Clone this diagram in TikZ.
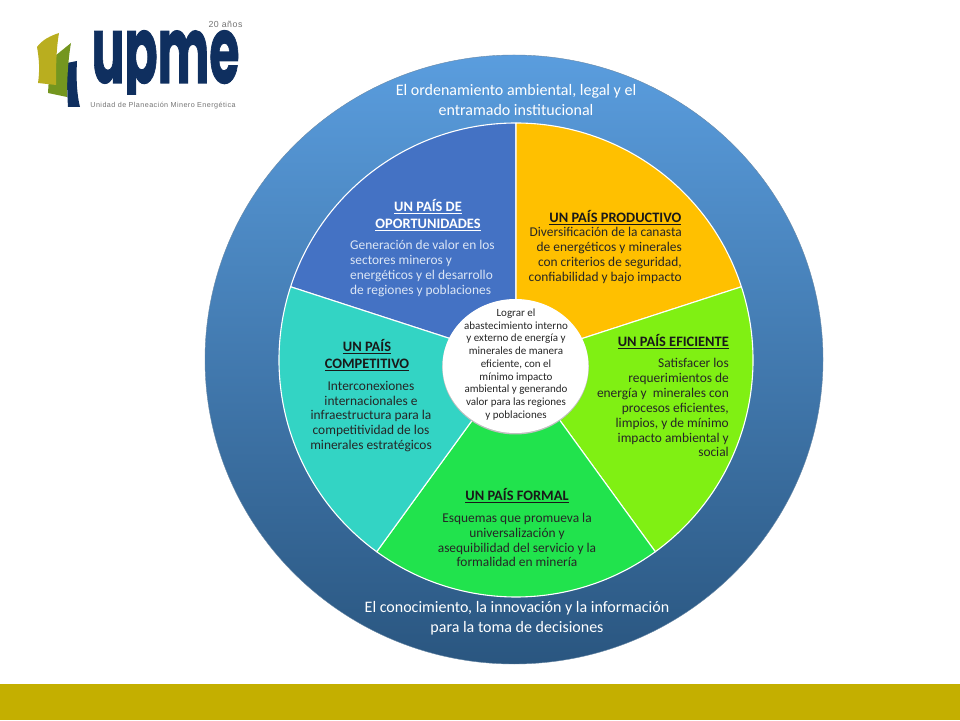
\documentclass[tikz,border=0pt]{standalone}
\usepackage{fontspec}
\setmainfont{Carlito}
\newfontfamily\logofont[FakeBold=1.2]{Poppins}
\newfontfamily\smallfont[LetterSpace=6]{Liberation Sans}
\definecolor{upmeNavy}{HTML}{0F2F5F}
\definecolor{upmeOlive}{HTML}{B9AE1F}
\definecolor{upmeGreen}{HTML}{74961F}
\definecolor{barColor}{HTML}{C4AF00}
\definecolor{ringTop}{HTML}{5A9DDE}
\definecolor{ringMid}{HTML}{4880BB}
\definecolor{ringBottom}{HTML}{2A5680}
\definecolor{opBlue}{HTML}{4472C4}
\definecolor{prodYellow}{HTML}{FFC000}
\definecolor{efLime}{HTML}{80F013}
\definecolor{forGreen}{HTML}{21E34D}
\definecolor{compTeal}{HTML}{33D4C4}
\definecolor{softWhite}{HTML}{DCE6F5}
\tikzset{
  sector/.style={draw=white,line width=1.1pt,line join=round},
  ringtext/.style={text=white,align=center,font=\fontsize{16}{20}\selectfont},
  headtext/.style={align=center,font=\fontsize{14.4}{17}\selectfont\bfseries},
  bodytext/.style={font=\fontsize{13.4}{14.9}\selectfont},
  hubtext/.style={align=center,font=\fontsize{11}{12.75}\selectfont,text=black!85},
}
\begin{document}
\begin{tikzpicture}[x=1pt,y=1pt,inner sep=0pt]
  \useasboundingbox (0,0) rectangle (960,720);
  \coordinate (C) at (516,360);

  % ring and bar
  \fill[barColor] (0,0) rectangle (960,36);
  \shade[top color=ringTop,middle color=ringMid,bottom color=ringBottom,draw=ringBottom!70,line width=.4pt]
    (514,360.5) ellipse (309 and 304.5);

  % sectors
  \foreach \col/\a/\b in {opBlue/90/162,prodYellow/18/90,efLime/-54/18,forGreen/-126/-54,compTeal/-198/-126}
    \filldraw[sector,fill=\col] (C) -- ++(\a:237) arc (\a:\b:237) -- cycle;

  % hub
  \fill[black!25] (515.5,353) ellipse (73.3 and 67.5);
  \fill[white] (515.5,354) ellipse (73 and 67);
  \node[hubtext] (hub) at (516,355.5) {Lograr el\\abastecimiento interno\\y externo de energía y\\minerales de manera\\eficiente, con el\\mínimo impacto\\ambiental y generando\\valor para las regiones\\y poblaciones};

  % ring labels
  \node[ringtext] (top) at (516,620) {El ordenamiento ambiental, legal y el\\entramado institucional};
  \node[ringtext] (bottom) at (517,102) {El conocimiento, la innovación y la información\\para la toma de decisiones};

  % sector labels
  \node[headtext,text=white] (opHead) at (428,504.5) {\underline{UN PAÍS DE}\\\underline{OPORTUNIDADES}};
  \node[bodytext,text=softWhite,align=left,anchor=north west] (opBody) at (350,480) {Generación de valor en los\\sectores mineros y\\energéticos y el desarrollo\\de regiones y poblaciones};

  \node[headtext,text=black!90,anchor=east] (prodHead) at (681.5,502) {\underline{UN PAÍS PRODUCTIVO}};
  \node[bodytext,text=black!85,align=right,anchor=north east] (prodBody) at (682,493) {Diversificación de la canasta\\de energéticos y minerales\\con criterios de seguridad,\\confiabilidad y bajo impacto};

  \node[headtext,text=black!90,anchor=east] (efHead) at (729,378) {\underline{UN PAÍS EFICIENTE}};
  \node[bodytext,text=black!85,align=right,anchor=north east] (efBody) at (729,362) {Satisfacer los\\requerimientos de\\energía y\ \ minerales con\\procesos eficientes,\\limpios, y de mínimo\\impacto ambiental y\\social};

  \node[headtext,text=black!90] (compHead) at (367,364.5) {\underline{UN PAÍS}\\\underline{COMPETITIVO}};
  \node[bodytext,text=black!85,align=center] (compBody) at (371,303.5) {Interconexiones\\internacionales e\\infraestructura para la\\competitividad de los\\minerales estratégicos};

  \node[headtext,text=black!90] (forHead) at (517,224) {\underline{UN PAÍS FORMAL}};
  \node[bodytext,text=black!85,align=center] (forBody) at (517,180) {Esquemas que promueva la\\universalización y\\asequibilidad del servicio y la\\formalidad en minería};

  % logo
  \fill[upmeNavy] (67,657) -- (77,659) .. controls (76,640) and (77,625) .. (80,613) -- (68,613) .. controls (67,628) and (67,645) .. (67,657) -- cycle;
  \fill[upmeGreen] (50,660) -- (71,677) .. controls (68,660) and (67,640) .. (67,623) -- (48,627) -- cycle;
  \fill[upmeOlive] (37,673) .. controls (42,680) and (50,684) .. (59,687) .. controls (56,670) and (56,650) .. (56,635) -- (38,637) .. controls (40,650) and (39,662) .. (37,673) -- cycle;
  \begin{scope}
    \clip (80,625) rectangle (250,700);
    \node[text=upmeNavy,xscale=.525,anchor=base,text height=52pt,text depth=0pt,font=\fontsize{93}{93}\selectfont\logofont\bfseries] (logo) at (165.5,637) {upme};
  \end{scope}
  \node[text=black!55,font=\fontsize{8.8}{8.8}\selectfont\smallfont] (years) at (225.5,696) {20 años};
  \node[text=black!55,font=\fontsize{7.2}{7.2}\selectfont\smallfont] (unit) at (163,614) {Unidad de Planeación Minero Energética};
\end{tikzpicture}
\end{document}
